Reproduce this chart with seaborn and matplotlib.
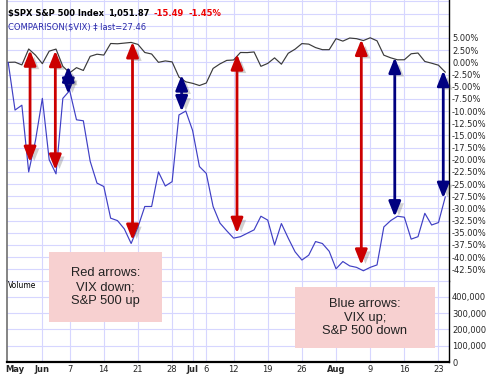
import matplotlib
matplotlib.use("Agg")
import matplotlib.pyplot as plt
import seaborn as sns
import numpy as np
import pandas as pd
from matplotlib import patheffects as pe
from matplotlib.patches import Rectangle

# ---------------- data ----------------
holidays = ["2010-05-31", "2010-07-05"]
trading_days = [d for d in pd.bdate_range("2010-05-24", "2010-08-24") if d.strftime("%Y-%m-%d") not in holidays]

spx_pct = [0.00, 0.04, -0.53, 2.74, 1.47, -0.27, 2.30, 2.72, -0.82, -2.16,
           -1.09, -1.67, 1.23, 1.67, 1.49, 3.87, 3.81, 3.95, 4.09, 3.68,
           2.02, 1.71, 0.00, 0.29, 0.09, -3.02, -4.00, -4.31, -4.76, -4.25,
           -1.25, -0.32, 0.40, 0.48, 2.02, 2.00, 2.13, -0.82, -0.22, 0.92,
           -0.38, 1.86, 2.70, 3.85, 3.74, 3.03, 2.60, 2.60, 4.86, 4.36,
           4.99, 4.86, 4.47, 5.04, 4.42, 1.47, 0.93, 0.52, 0.53, 1.76,
           1.91, 0.18, -0.18, -0.59, -2.03]

vix_pct = [0.0, -9.8, -8.8, -22.5, -16.0, -7.4, -20.0, -22.9, -7.4, -5.8,
           -11.8, -12.0, -20.3, -24.8, -25.5, -32.0, -32.5, -34.2, -37.2, -33.8,
           -29.6, -29.6, -22.5, -25.4, -24.5, -10.8, -10.0, -14.0, -21.4, -22.8,
           -29.6, -33.0, -34.6, -36.1, -35.8, -35.1, -34.4, -31.6, -32.4, -37.5,
           -33.1, -36.1, -38.9, -40.6, -39.6, -36.8, -37.2, -38.8, -42.4, -40.9,
           -41.8, -42.1, -42.8, -42.1, -41.6, -33.8, -32.5, -31.6, -31.8, -36.3,
           -35.8, -31.0, -33.4, -32.9, -27.6]

tick_dates = ["2010-05-25", "2010-06-01", "2010-06-07", "2010-06-14", "2010-06-21",
              "2010-06-28", "2010-07-01", "2010-07-06", "2010-07-12", "2010-07-19",
              "2010-07-26", "2010-08-02", "2010-08-09", "2010-08-16", "2010-08-23"]
tick_labels = ["May", "Jun", "7", "14", "21", "28", "Jul", "6", "12", "19", "26",
               "Aug", "9", "16", "23"]
month_labels = ["May", "Jun", "Jul", "Aug"]

arrow_pos = [3.2, 6.9, 8.8, 18.2, 25.4, 33.5, 51.7, 56.6, 63.7]
arrow_top = [2.5, 2.4, -0.8, 4.2, -2.6, 1.7, 4.7, 1.0, -1.7]
arrow_bottom = [-20.5, -22.1, -6.5, -36.5, -10.1, -35.1, -41.6, -31.7, -27.9]
arrow_kind = ["red", "red", "blue", "red", "blue", "red", "red", "blue", "blue"]

pct_ticks = list(np.arange(-42.5, 5.01, 2.5))
vol_ticks = [0, 100000, 200000, 300000, 400000]

title_parts = ["$SPX S&P 500 Index", "1,051.87", "-15.49", "-1.45%"]
subtitle = "COMPARISON($VIX) \u2021 last=27.46"
red_note = "Red arrows:\nVIX down;\nS&P 500 up"
blue_note = "Blue arrows:\nVIX up;\nS&P 500 down"

# ---------------- figure ----------------
sns.set_theme(style="white")
plt.rcParams["font.family"] = ["DejaVu Sans"]

W, H = 489, 377
fig = plt.figure(figsize=(W / 100, H / 100), dpi=100)
fig.patch.set_facecolor("white")

def fx(px):
    return px / W

def fy(py):
    return 1 - py / H

L, R = 6.7, 449.0
ax = fig.add_axes([fx(L), fy(281), fx(R) - fx(L), 281 / H])
axv = fig.add_axes([fx(L), fy(362), fx(R) - fx(L), (362 - 281) / H], sharex=ax)

df = pd.DataFrame({"i": np.arange(len(trading_days)), "spx": spx_pct, "vix": vix_pct})
pos_of = {d.strftime("%Y-%m-%d"): k for k, d in enumerate(trading_days)}
tick_pos = [pos_of[d] for d in tick_dates]

grid_c = "#d6d6ff"
for a in (ax, axv):
    a.set_facecolor("white")
    a.grid(False)
    for p, lab in zip(tick_pos, tick_labels):
        if lab != "May":
            a.axvline(p, color=grid_c, lw=0.8, zorder=0)
for v in np.arange(-45, 12.6, 2.5):
    ax.axhline(v, color=grid_c, lw=0.8, zorder=0)
for v in [100000, 200000, 300000, 400000, 500000]:
    axv.axhline(v, color=grid_c, lw=0.8, zorder=0)

sns.lineplot(data=df, x="i", y="spx", ax=ax, color="#3a3a3a", lw=0.85, zorder=3)
sns.lineplot(data=df, x="i", y="vix", ax=ax, color="#3f3fc4", lw=0.85, zorder=3)

colors = {"red": "#cc0000", "blue": "#000080"}
for p, t, b, k in zip(arrow_pos, arrow_top, arrow_bottom, arrow_kind):
    ann = ax.annotate("", xy=(p, t), xytext=(p, b),
                      arrowprops=dict(arrowstyle="<|-|>,head_length=0.75,head_width=0.3",
                                      color=colors[k], lw=2.0, shrinkA=0, shrinkB=0),
                      zorder=5)
    ann.arrow_patch.set_path_effects([
        pe.withSimplePatchShadow(offset=(3, -2), shadow_rgbFace="0.35", alpha=0.28)])

ax.set_xlim(-0.22, 64.54)
ax.set_ylim(-44.9, 12.8)
axv.set_ylim(0, 498000)

ax.yaxis.tick_right()
ax.set_yticks(pct_ticks)
ax.set_yticklabels([f"{v:.2f}%" for v in pct_ticks], fontsize=6)
ax.tick_params(axis="y", length=0, pad=2.2, right=False)
ax.tick_params(axis="x", labelbottom=False, length=0)
ax.set_xlabel("")
ax.set_ylabel("")

axv.yaxis.tick_right()
axv.set_yticks(vol_ticks)
axv.set_yticklabels([f"{v:,}" for v in vol_ticks], fontsize=6)
axv.tick_params(axis="y", length=0, pad=2.2)
axv.set_xticks(tick_pos)
axv.set_xticklabels(tick_labels, fontsize=6)
for tl in axv.get_xticklabels():
    if tl.get_text() in month_labels:
        tl.set_fontweight("bold")
axv.tick_params(axis="x", length=0, pad=2.0)
axv.set_xlabel("")
axv.set_ylabel("")

for s in ("top", "bottom"):
    ax.spines[s].set_visible(False)
axv.spines["top"].set_visible(False)
for a in (ax, axv):
    a.spines["left"].set_color("#707070")
    a.spines["left"].set_linewidth(1.2)
    a.spines["right"].set_color("black")
    a.spines["right"].set_linewidth(1.0)
axv.spines["bottom"].set_color("black")
axv.spines["bottom"].set_linewidth(1.6)
axv.spines["bottom"].set_linestyle((0, (2, 1)))

# header text
xs = [8, 107.7, 153.3, 189]
cols = ["black", "black", "#ee0000", "#ee0000"]
for x, s, c in zip(xs, title_parts, cols):
    fig.text(fx(x), fy(13.5), s, fontsize=6, fontweight="bold", color=c,
             va="center", ha="left", parse_math=False)
fig.text(fx(8), fy(27), subtitle, fontsize=6, color="#2a2aa8", va="center",
         ha="left", parse_math=False)
fig.text(fx(8), fy(285), "Volume", fontsize=5.5, color="black", va="center", ha="left")

# note boxes
box_c = "#f7d0d0"
fig.patches.append(Rectangle((fx(49.3), fy(321.7)), fx(161.7) - fx(49.3), (321.7 - 251.7) / H,
                             transform=fig.transFigure, facecolor=box_c, edgecolor="none", zorder=4))
fig.patches.append(Rectangle((fx(295), fy(348.3)), fx(435) - fx(295), (348.3 - 287.3) / H,
                             transform=fig.transFigure, facecolor=box_c, edgecolor="none", zorder=4))
fig.text(fx(105.5), fy(287), red_note, fontsize=9.3, family=["Liberation Sans", "DejaVu Sans"],
         ha="center", va="center", multialignment="center", color="#222222", zorder=6)
fig.text(fx(365), fy(317.5), blue_note, fontsize=9.3, family=["Liberation Sans", "DejaVu Sans"],
         ha="center", va="center", multialignment="center", color="#222222", zorder=6)

fig.savefig("out.png", dpi=100, facecolor="white")
